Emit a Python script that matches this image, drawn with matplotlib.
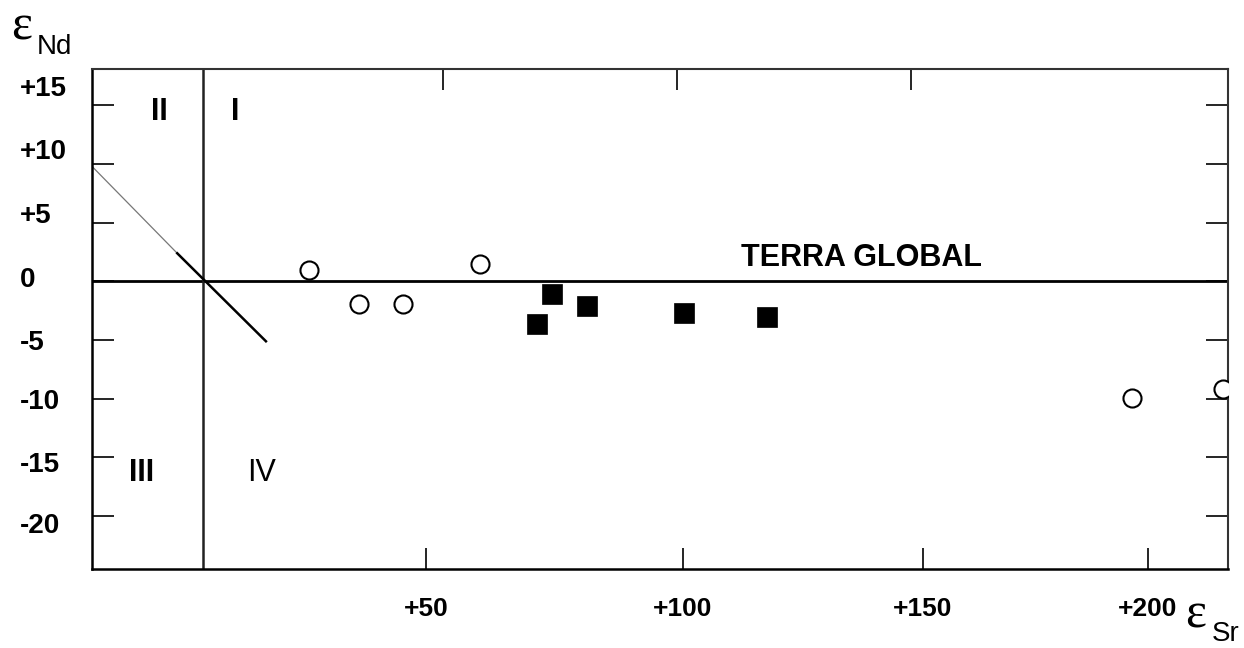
import numpy as np
import matplotlib
matplotlib.use("Agg")
import matplotlib.pyplot as plt
from matplotlib.ticker import FixedLocator, FixedFormatter
from matplotlib.transforms import ScaledTranslation

plt.rcParams['font.family'] = ['Liberation Sans', 'DejaVu Sans']

# samples: open circles and filled squares (eps Sr, eps Nd)
circ_sr = [23.8, 35.0, 44.8, 60.5, 196.4, 216.8]
circ_nd = [1.0, -1.9, -1.9, 1.5, -9.9, -9.2]
sq_sr = [71.6, 74.5, 81.3, 100.2, 117.5]
sq_nd = [-3.6, -1.05, -2.1, -2.7, -3.0]

# mantle array line (thin upper part, heavy lower part)
arr_thin_sr = [-24.9, -5.8]
arr_thin_nd = [9.8, 2.4]
arr_thick_sr = [-5.8, 14.1]
arr_thick_nd = [2.4, -5.1]

xticks = [50, 100, 150, 200]
xtick_labels = ['+50', '+100', '+150', '+200']
yticks = [15, 10, 5, 0, -5, -10, -15, -20]
ytick_labels = ['+15', '+10', '+5', '0', '-5', '-10', '-15', '-20']

# the printed x axis is not evenly spaced, calibrate it on the tick marks
sr_knots = [-100, 0, 50, 100, 150, 200, 300]
px_knots = [-243, 203, 426, 683, 923, 1148, 1598]

# the printed y labels drift away from their tick marks (points, + = up)
ylab_shift = [14, 11, 7, 3, 0, 0, -3, -5]


def fwd(x):
    return np.interp(x, sr_knots, px_knots)


def inv(p):
    return np.interp(p, px_knots, sr_knots)


fig = plt.figure(figsize=(12.44, 6.48), dpi=100)
ax = fig.add_axes([0.074, 0.122, 0.913, 0.7715])
ax.set_xscale('function', functions=(fwd, inv))
ax.set_xlim(-24.9, 217.8)
ax.set_ylim(-24.5, 18.1)

ax.axhline(0, color='black', lw=2.0, zorder=2)
ax.axvline(0, color='#222222', lw=1.8, zorder=2)
ax.plot(arr_thin_sr, arr_thin_nd, color='#777777', lw=0.9, zorder=2)
ax.plot(arr_thick_sr, arr_thick_nd, color='black', lw=1.8, zorder=2)

ax.plot(circ_sr, circ_nd, 'o', ms=13, mfc='white', mec='black', mew=1.5, zorder=3)
ax.plot(sq_sr, sq_nd, 's', ms=14.5, mfc='black', mec='black', mew=0.5, zorder=3)

ax.text(-9.9, 14.4, 'II', ha='center', va='center', fontsize=22, fontweight='bold')
ax.text(7.2, 14.4, 'I', ha='center', va='center', fontsize=22, fontweight='bold')
ax.text(-13.7, -16.3, 'III', ha='center', va='center', fontsize=22, fontweight='bold')
ax.text(13.2, -16.3, 'IV', ha='center', va='center', fontsize=22)
ax.text(137.3, 2.0, 'TERRA GLOBAL', ha='center', va='center', fontsize=22, fontweight='bold')

ax.xaxis.set_major_locator(FixedLocator(xticks))
ax.xaxis.set_major_formatter(FixedFormatter(xtick_labels))
ax.xaxis.set_minor_locator(FixedLocator([]))
ax.yaxis.set_major_locator(FixedLocator(yticks))
ax.yaxis.set_major_formatter(FixedFormatter(ytick_labels))
ax.tick_params(axis='x', direction='in', length=15, width=1.2, pad=20,
               labelsize=19, top=False)
ax.tick_params(axis='y', direction='in', length=16, width=1.2, pad=52,
               labelsize=20, right=True)
for lab in ax.get_xticklabels() + ax.get_yticklabels():
    lab.set_fontweight('bold')
for lab in ax.get_yticklabels():
    lab.set_horizontalalignment('left')
for tick, dy in zip(ax.yaxis.get_major_ticks(), ylab_shift):
    tick.label1.set_transform(tick.label1.get_transform()
                              + ScaledTranslation(0, dy / 72, fig.dpi_scale_trans))

top = ax.secondary_xaxis('top')
top.set_xticks(xticks[:3])
top.tick_params(direction='in', length=15, width=1.2, labeltop=False)
top.spines['top'].set_visible(False)

for side in ['left', 'bottom']:
    ax.spines[side].set_linewidth(1.8)
for side in ['top', 'right']:
    ax.spines[side].set_linewidth(1.5)
    ax.spines[side].set_color('#333333')
    ax.spines[side].set_linestyle((0, (3, 1)))

fig.text(11 / 1244, 1 - 40 / 648, 'ε', fontsize=36, va='baseline', family='Liberation Serif')
fig.text(37 / 1244, 1 - 54 / 648, 'Nd', fontsize=20, va='baseline')
fig.text(1185 / 1244, 1 - 628 / 648, 'ε', fontsize=36, va='baseline', family='Liberation Serif')
fig.text(1212 / 1244, 1 - 641 / 648, 'Sr', fontsize=20, va='baseline')

fig.savefig('out.png', dpi=100)
